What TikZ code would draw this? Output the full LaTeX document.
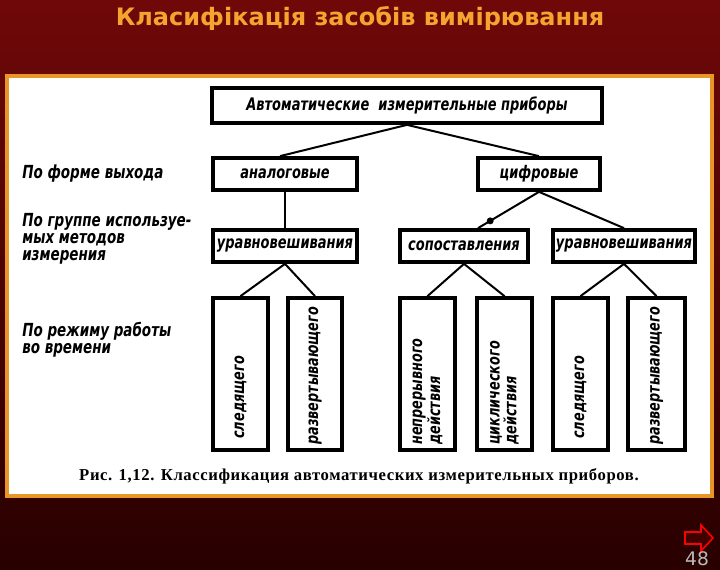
\documentclass[tikz,border=0pt]{standalone}
\usepackage{fontspec}
\setmainfont{Liberation Serif}
\newfontfamily\titlefont{DejaVu Sans}
\newfontfamily\hand[FakeStretch=0.75]{DejaVu Sans}
\newfontfamily\capfont[LetterSpace=3.6]{Liberation Serif}
\usetikzlibrary{calc}
\definecolor{bgtop}{RGB}{112,8,8}
\definecolor{bgbot}{RGB}{40,0,0}
\definecolor{titlec}{RGB}{246,164,48}
\definecolor{framec}{RGB}{232,150,40}
\begin{document}
\begin{tikzpicture}[x=0.75pt,y=-0.75pt,
  titlestyle/.style={text=titlec, font=\titlefont\bfseries\fontsize{18}{21}\selectfont, inner sep=0pt},
  hbox/.style={draw, line width=2.8pt, inner sep=0pt, minimum height=32*0.75pt,
    font=\hand\bfseries\itshape\fontsize{13}{14}\selectfont},
  vbox/.style={draw, line width=2.8pt, inner sep=0pt, minimum height=152*0.75pt},
  vtext/.style={rotate=90, anchor=west, inner sep=0pt, align=left,
    font=\hand\bfseries\itshape\fontsize{12.8}{11.5}\selectfont},
  sidelabel/.style={anchor=north west, inner sep=0pt, align=left,
    font=\hand\bfseries\itshape\fontsize{13.5}{12.8}\selectfont},
  conn/.style={line width=1.5pt},
  capstyle/.style={inner sep=0pt, font=\capfont\bfseries\fontsize{12.5}{14}\selectfont}
]
\useasboundingbox (0,0) rectangle (720,570);
\shade[top color=bgtop, bottom color=bgbot] (0,0) rectangle (720,570);
\node[titlestyle] (title) at (360,18) {Класифікація засобів вимірювання};
\draw[framec, line width=3pt, fill=white] (7,76) rectangle (712,496);

% level boxes
\node[hbox, minimum width=390*0.75pt, minimum height=35*0.75pt] (top) at (407,105.5) {Автоматические\ \ измерительные приборы};
\node[hbox, minimum width=144*0.75pt] (an) at (285,174) {аналоговые};
\node[hbox, minimum width=122*0.75pt] (dig) at (539,174) {цифровые};
\node[hbox, minimum width=144*0.75pt] (u1) at (285,246) {уравновешивания};
\node[hbox, minimum width=128*0.75pt] (sop) at (464,246) {сопоставления};
\node[hbox, minimum width=142*0.75pt] (u2) at (624,246) {уравновешивания};

% vertical boxes
\node[vbox, minimum width=55*0.75pt] (v1) at (240.5,374) {};
\node[vbox, minimum width=54*0.75pt] (v2) at (315,374) {};
\node[vbox, minimum width=55*0.75pt] (v3) at (427.5,374) {};
\node[vbox, minimum width=55*0.75pt] (v4) at (504.5,374) {};
\node[vbox, minimum width=55*0.75pt] (v5) at (580.5,374) {};
\node[vbox, minimum width=57*0.75pt] (v6) at (656.5,374) {};

\node[vtext] (t1) at ($(v1.south)+(0,-13)$) {следящего};
\node[vtext] (t2) at ($(v2.south)+(0,-7)$) {развертывающего};
\node[vtext] (t3) at ($(v3.south)+(0,-7)$) {непрерывного\\действия};
\node[vtext] (t4) at ($(v4.south)+(0,-7)$) {циклического\\действия};
\node[vtext] (t5) at ($(v5.south)+(0,-13)$) {следящего};
\node[vtext] (t6) at ($(v6.south)+(0,-7)$) {развертывающего};

% connectors
\draw[conn] (top.south) -- ($(an.north)+(-5,0)$);
\draw[conn] (top.south) -- (dig.north);
\draw[conn] (an.south) -- (u1.north);
\draw[conn] (dig.south) -- coordinate[pos=0.8] (blob) ($(sop.north)+(14,0)$);
\fill (blob) circle (2.6pt);
\draw[conn] (dig.south) -- (u2.north);
\draw[conn] (u1.south) -- (v1.north);
\draw[conn] (u1.south) -- (v2.north);
\draw[conn] (sop.south) -- (v3.north);
\draw[conn] (sop.south) -- (v4.north);
\draw[conn] (u2.south) -- (v5.north);
\draw[conn] (u2.south) -- (v6.north);

% side labels
\node[sidelabel] (l1) at (22,165) {По форме выхода};
\node[sidelabel] (l2) at (22,213) {По группе используе-\\мых методов\\измерения};
\node[sidelabel] (l3) at (22,322) {По режиму работы\\во времени};

% caption
\node[capstyle] (cap) at (359,476) {Рис. 1,12. Классификация автоматических измерительных приборов.};

% navigation arrow and page number
\draw[red, line width=1.2pt, fill=black!75!red, line join=miter] (685,532) -- (701,532) -- (701,525) -- (713,538) -- (701,551) -- (701,544) -- (685,544) -- cycle;
\node[inner sep=0pt, text=gray!55, font=\titlefont\fontsize{14}{15}\selectfont] (pg) at (697,559) {48};
\end{tikzpicture}
\end{document}
